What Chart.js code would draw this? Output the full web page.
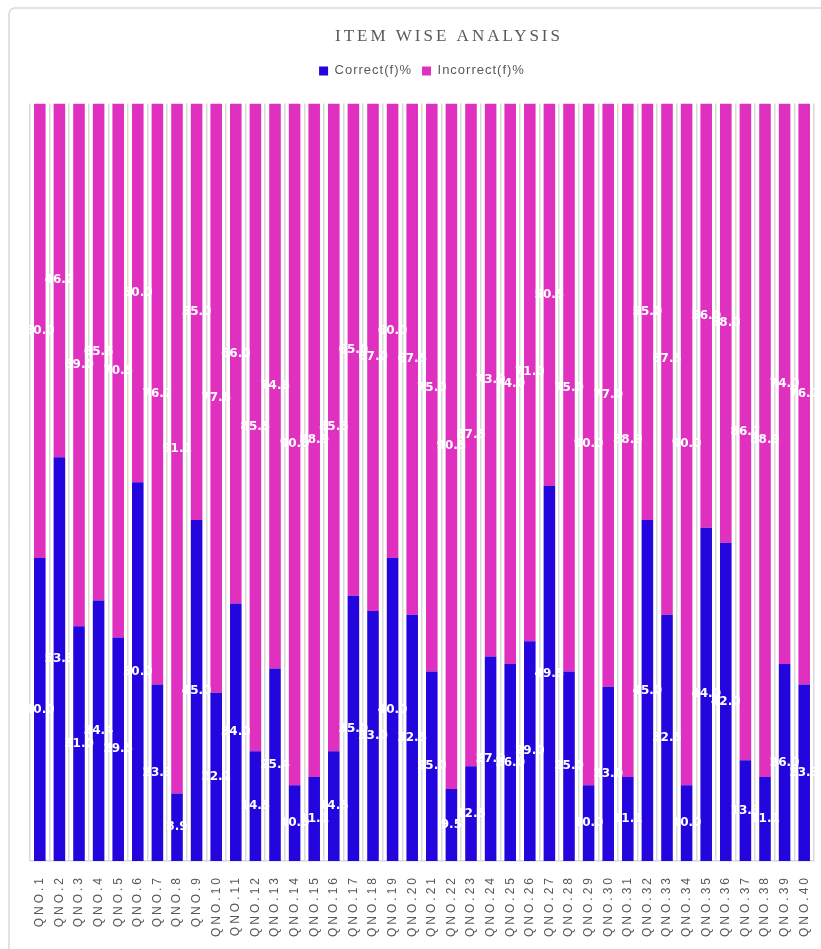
<!DOCTYPE html>
<html>
<head>
<meta charset="utf-8">
<script src="https://cdn.jsdelivr.net/npm/chart.js@4.4.1/dist/chart.umd.min.js"></script>
<style>
  html, body { margin: 0; padding: 0; background: #ffffff; }
  #wrap { width: 821px; height: 949px; }
</style>
</head>
<body>
<div id="wrap"><canvas id="itemAnalysis" width="821" height="949"></canvas></div>
<script>
const questions = [
  "QNO.1", "QNO.2", "QNO.3", "QNO.4", "QNO.5", "QNO.6", "QNO.7", "QNO.8", "QNO.9", "QNO.10",
  "QNO.11", "QNO.12", "QNO.13", "QNO.14", "QNO.15", "QNO.16", "QNO.17", "QNO.18", "QNO.19", "QNO.20",
  "QNO.21", "QNO.22", "QNO.23", "QNO.24", "QNO.25", "QNO.26", "QNO.27", "QNO.28", "QNO.29", "QNO.30",
  "QNO.31", "QNO.32", "QNO.33", "QNO.34", "QNO.35", "QNO.36", "QNO.37", "QNO.38", "QNO.39", "QNO.40"
];
const correctPct = [
  40.0, 53.3, 31.0, 34.4, 29.5, 50.0, 23.3, 8.9, 45.0, 22.2,
  34.0, 14.5, 25.4, 10.0, 11.1, 14.5, 35.0, 33.0, 40.0, 32.5,
  25.0, 9.5, 12.5, 27.0, 26.0, 29.0, 49.5, 25.0, 10.0, 23.0,
  11.1, 45.0, 32.5, 10.0, 44.0, 42.0, 13.3, 11.1, 26.0, 23.3
];
const incorrectPct = [
  60.0, 46.7, 69.0, 65.6, 70.5, 50.0, 76.7, 91.1, 55.0, 77.8,
  66.0, 85.5, 74.6, 90.0, 88.9, 85.5, 65.0, 67.0, 60.0, 67.5,
  75.0, 90.5, 87.5, 73.0, 74.0, 71.0, 50.5, 75.0, 90.0, 77.0,
  88.9, 55.0, 67.5, 90.0, 56.0, 58.0, 86.7, 88.9, 74.0, 76.7
];

const grey = "#595959";
const lineGrey = "#d9d9d9";

// white value labels in the middle of every segment
const segmentLabels = {
  id: "segmentLabels",
  afterDatasetsDraw(chart) {
    const ctx = chart.ctx;
    ctx.save();
    ctx.letterSpacing = "0px";
    ctx.font = "bold 12px 'DejaVu Sans'";
    ctx.fillStyle = "#ffffff";
    ctx.textAlign = "center";
    ctx.textBaseline = "middle";
    chart.data.datasets.forEach((ds, i) => {
      chart.getDatasetMeta(i).data.forEach((bar, j) => {
        const p = bar.getProps(["x", "y", "base"], true);
        ctx.fillText(ds.data[j].toFixed(1), p.x, (p.y + p.base) / 2);
      });
    });
    ctx.restore();
  }
};

// outer frame + spaced text for title, legend and x labels
const chartLook = {
  id: "chartLook",
  beforeInit(chart) {
    const legend = chart.legend;
    const fit = legend.fit;
    const draw = legend.draw;
    legend.fit = function () {
      this.ctx.save();
      this.ctx.letterSpacing = "1px";
      fit.call(this);
      this.ctx.restore();
      this.height += 16;
    };
    legend.draw = function () {
      this.ctx.save();
      this.ctx.letterSpacing = "1px";
      draw.call(this);
      this.ctx.restore();
    };
  },
  afterLayout(chart) {
    const t = chart.titleBlock;
    if (t && !t._spaced) {
      const draw = t.draw;
      t.draw = function () {
        this.ctx.save();
        this.ctx.letterSpacing = "3px";
        draw.call(this);
        this.ctx.restore();
      };
      t._spaced = true;
    }
    if (t) { t.left += 27; t.right += 27; }
    const x = chart.scales.x;
    if (x && !x._spaced) {
      const drawLabels = x.drawLabels;
      x.drawLabels = function (area) {
        this.ctx.save();
        this.ctx.letterSpacing = "3px";
        drawLabels.call(this, area);
        this.ctx.restore();
      };
      x._spaced = true;
    }
  },
  beforeDraw(chart) {
    const ctx = chart.ctx;
    ctx.save();
    ctx.fillStyle = "#ffffff";
    ctx.fillRect(0, 0, chart.width, chart.height);
    ctx.strokeStyle = lineGrey;
    ctx.lineWidth = 1.5;
    ctx.beginPath();
    ctx.roundRect(9, 8, chart.width + 20, chart.height + 20, 6);
    ctx.stroke();
    ctx.restore();
  }
};

new Chart(document.getElementById("itemAnalysis"), {
  type: "bar",
  data: {
    labels: questions,
    datasets: [
      {
        label: "Correct(f)%",
        data: correctPct,
        backgroundColor: "#2305dd",
        categoryPercentage: 1,
        barPercentage: 0.59
      },
      {
        label: "Incorrect(f)%",
        data: incorrectPct,
        backgroundColor: "#e030c0",
        categoryPercentage: 1,
        barPercentage: 0.59
      }
    ]
  },
  options: {
    responsive: false,
    animation: false,
    layout: { padding: { left: 30, right: 7, top: 20, bottom: 0 } },
    plugins: {
      title: {
        display: true,
        text: "ITEM WISE ANALYSIS",
        color: grey,
        font: { family: "'Liberation Serif', serif", size: 17, weight: "normal" },
        padding: { top: 6, bottom: 8 }
      },
      legend: {
        position: "top",
        labels: {
          color: grey,
          boxWidth: 9,
          boxHeight: 9,
          padding: 10,
          font: { family: "'Liberation Sans', sans-serif", size: 13 }
        }
      },
      tooltip: { enabled: false }
    },
    scales: {
      x: {
        stacked: true,
        grid: { offset: true, color: lineGrey, lineWidth: 1.5, drawTicks: false },
        border: { color: lineGrey, width: 1.5 },
        ticks: {
          color: grey,
          padding: 14,
          minRotation: 90,
          maxRotation: 90,
          autoSkip: false,
          font: { family: "'Liberation Sans', sans-serif", size: 12 }
        },
        afterFit: (scale) => {
          scale.height = 88;
          scale.paddingLeft = 0;
          scale.paddingRight = 0;
        }
      },
      y: {
        stacked: true,
        display: false,
        min: 0,
        max: 100
      }
    }
  },
  plugins: [segmentLabels, chartLook]
});
</script>
</body>
</html>
